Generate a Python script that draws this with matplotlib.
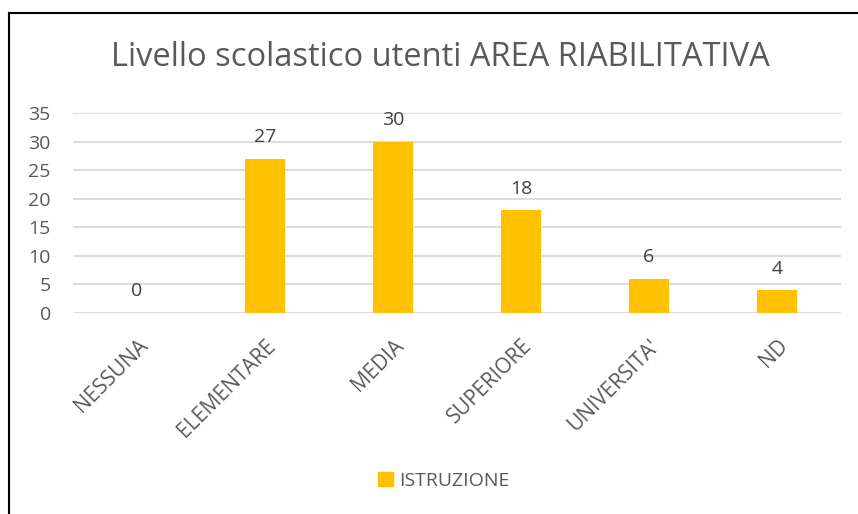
import matplotlib.pyplot as plt
from matplotlib.lines import Line2D
from matplotlib.patches import Patch

categories = ["NESSUNA", "ELEMENTARE", "MEDIA", "SUPERIORE", "UNIVERSITA'", "ND"]
values = [0, 27, 30, 18, 6, 4]
series_name = "ISTRUZIONE"
title = "Livello scolastico utenti AREA RIABILITATIVA"

plt.rcParams["font.family"] = ["Open Sans", "DejaVu Sans"]
grey = "#595959"
bar_color = "#FFC000"

W, H = 858, 514
fig = plt.figure(figsize=(W / 100, H / 100), dpi=100)
ax = fig.add_axes([73 / W, 1 - 313 / H, (841 - 73) / W, 200 / H])

x = list(range(len(categories)))
ax.bar(x, values, width=0.31, color=bar_color, zorder=3)
for xi, v in zip(x, values):
    ax.annotate(str(v), (xi, v), xytext=(0, 9), textcoords="offset points",
                ha="center", va="bottom", fontsize=14, color="#404040")

ax.set_xlim(-0.5, len(categories) - 0.5)
ax.set_ylim(0, 35)
ax.set_yticks(range(0, 36, 5))
ax.grid(axis="y", color="#d9d9d9", linewidth=1.3, zorder=0)
for s in ax.spines.values():
    s.set_visible(False)
ax.tick_params(axis="both", length=0, labelsize=14, colors=grey)
ax.tick_params(axis="y", pad=16)
ax.set_xticks(x)
ax.set_xticklabels(categories, rotation=45, ha="right", rotation_mode="anchor", fontsize=15)
ax.tick_params(axis="x", pad=16)

fig.text(440 / W, 1 - 58 / H, title, ha="center", va="center", fontsize=23.5, color=grey)

leg = fig.legend(handles=[Patch(color=bar_color, label=series_name)],
                 loc="center", bbox_to_anchor=(444 / W, 1 - 481 / H), frameon=False,
                 fontsize=14, handlelength=0.75, handleheight=0.75, handletextpad=0.35)
for t in leg.get_texts():
    t.set_color(grey)

# chart frame (left and top edges visible)
fig.add_artist(Line2D([9 / W, 9 / W], [0, 1 - 13 / H], color="black", linewidth=1.5, transform=fig.transFigure))
fig.add_artist(Line2D([9 / W, 1], [1 - 13 / H, 1 - 13 / H], color="black", linewidth=1.5, transform=fig.transFigure))

fig.savefig("out.png", dpi=100)
